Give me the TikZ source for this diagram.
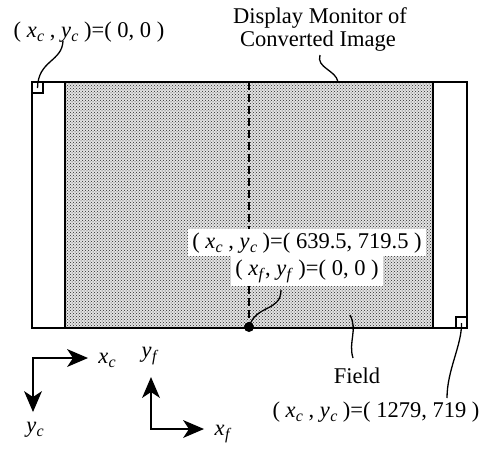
\documentclass[tikz,border=0pt]{standalone}
\usepackage{fontspec}
\setmainfont{Liberation Serif}
\usetikzlibrary{patterns}
\newcommand\cvar[2]{\textit{#1}\kern0.3pt\raisebox{-0.45ex}{\fontsize{16}{16}\selectfont\textit{#2}}}
\tikzset{
  lbl/.style={font=\fontsize{22.5}{23}\selectfont, inner sep=1pt, anchor=base},
  wlbl/.style={lbl, fill=white, inner xsep=4pt, inner ysep=3pt},
  frame/.style={line width=1.6pt},
  leader/.style={line width=1.3pt},
  axisline/.style={line width=1.6pt},
  head/.style={fill=black},
}
\begin{document}
\begin{tikzpicture}[x=1pt,y=-1pt]
\useasboundingbox (0,0) rectangle (487,450);
% field
\fill[gray!22] (65,82) rectangle (433,328);
\fill[pattern=crosshatch dots, pattern color=black!85] (65,82) rectangle (433,328);
\draw[frame] (65,82) -- (65,328);
\draw[frame] (433,82) -- (433,328);
\draw[frame] (32,82) rectangle (467,328);
% small squares
\draw[line width=1.2pt] (32,82) rectangle (43,93);
\draw[line width=1.2pt] (456,317) rectangle (467,328);
% dashed centre line
\draw[line width=1.5pt, dash pattern=on 8pt off 4pt] (249,82) -- (249,328);
% labels
\node[lbl] (l00) at (89,37) {( \cvar{x}{c} , \cvar{y}{c} )=( 0, 0 )};
\node[lbl] (disp1) at (320,23) {Display Monitor of};
\node[lbl] (disp2) at (318,46) {Converted Image};
\node[wlbl] (lmid) at (307,248) {( \cvar{x}{c} , \cvar{y}{c} )=( 639.5, 719.5 )};
\node[wlbl] (lf) at (307,275) {( \cvar{x}{f}, \cvar{y}{f} )=( 0, 0 )};
\node[lbl] (field) at (357,383) {Field};
\node[lbl] (lend) at (376,417) {( \cvar{x}{c} , \cvar{y}{c} )=( 1279, 719 )};
% origin dot
\fill (249,327) circle (5pt);
\coordinate (dot) at (249,327);
% leader end points
\coordinate (sq1) at (37.5,88);
\coordinate (sq2) at (461.5,323);
\coordinate (mon) at (338,82);
\coordinate (fld) at (350,315);
\draw[leader] (63,41) .. controls (62,62) and (38,60) .. (sq1);
\draw[leader] (320,55) .. controls (316,68) and (336,70) .. (mon);
\draw[leader] (281,290) .. controls (281,312) and (256,304) .. (dot);
\draw[leader] (fld) .. controls (358,330) and (348,342) .. (353,358);
\draw[leader] (sq2) .. controls (462,345) and (447,370) .. (447,398);
% axes
\coordinate (c1) at (33,358);
\coordinate (c2) at (151,429);
\coordinate (t1) at (88,358);
\coordinate (t2) at (33,412);
\coordinate (t3) at (151,377);
\coordinate (t4) at (204,429);
\coordinate (e1) at (74,358);
\coordinate (e2) at (33,398);
\coordinate (e3) at (151,391);
\coordinate (e4) at (190,429);
\draw[axisline] ([xshift=-0.8pt]c1) -- (e1);
\draw[axisline] (c1) -- (e2);
\draw[axisline] ([yshift=-0.8pt]c2) -- (e3);
\draw[axisline] (c2) -- (e4);
\fill[head] (t1) -- ++(-21,-9) -- ++(6,9) -- ++(-6,9) -- cycle;
\fill[head] (t2) -- ++(-9,-21) -- ++(9,6) -- ++(9,-6) -- cycle;
\fill[head] (t3) -- ++(-9,21) -- ++(9,-6) -- ++(9,6) -- cycle;
\fill[head] (t4) -- ++(-21,-9) -- ++(6,9) -- ++(-6,9) -- cycle;
\node[lbl] (axc) at (107,363) {\cvar{x}{c}};
\node[lbl] (ayc) at (35,432) {\cvar{y}{c}};
\node[lbl] (ayf) at (150,357) {\cvar{y}{f}};
\node[lbl] (axf) at (223,435) {\cvar{x}{f}};
\end{tikzpicture}
\end{document}
